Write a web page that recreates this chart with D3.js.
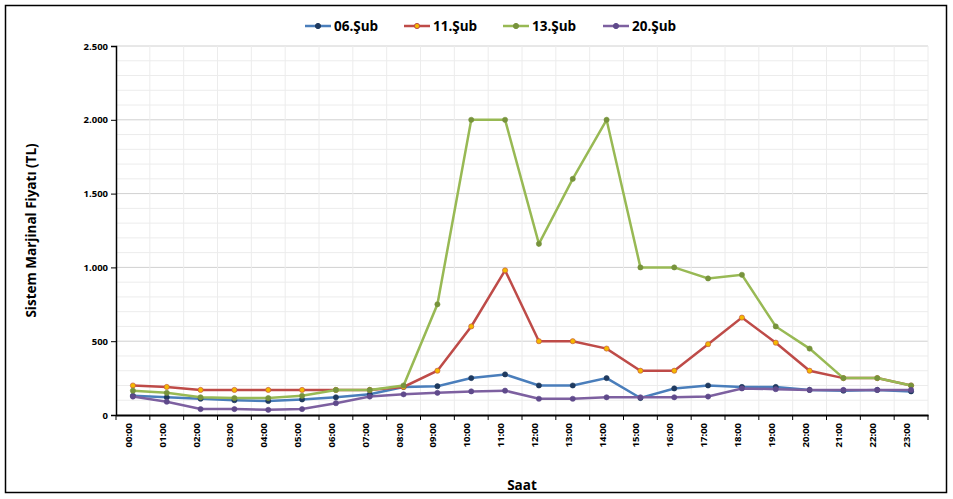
<!DOCTYPE html>
<html><head><meta charset="utf-8">
<script src="https://d3js.org/d3.v7.min.js"></script>
<style>body{margin:0;background:#fff;font-family:"Open Sans",sans-serif;}</style>
</head><body><div id="c"></div>
<script>
const hours = d3.range(24).map(h => String(h).padStart(2, "0") + ":00");
const s06 = [130,120,110,100,95,105,120,140,190,195,250,275,200,200,250,115,180,200,190,190,170,165,170,160];
const s11 = [200,190,170,170,170,170,170,170,190,300,600,980,500,500,450,300,300,480,660,490,300,250,250,200];
const s13 = [165,150,120,115,115,130,170,170,200,750,2000,2000,1160,1600,2000,1000,1000,925,950,600,450,250,250,200];
const s20 = [125,90,40,40,35,40,80,125,140,150,160,165,110,110,120,120,120,125,180,175,170,170,170,170];
const names = ["06.Şub","11.Şub","13.Şub","20.Şub"];
const colors = ["#4a7ebb","#be4b48","#98b954","#7d60a0"];
const dots = [["#1f3a5f","#1f3a5f"],["#f5b800","#be4b48"],["#77933c","#77933c"],["#5f4a8b","#5f4a8b"]];
const series = [s06,s11,s13,s20];
const yTicks = [0,500,1000,1500,2000,2500];
const fmt = v => v === 0 ? "0" : d3.format(",")(v).replace(",", ".");

const W = 953, H = 499, m = {l:116, r:25, t:46, b:84};
const svg = d3.select("#c").append("svg").attr("width", W).attr("height", H);
svg.append("rect").attr("x",5.5).attr("y",5.5).attr("width",W-12).attr("height",H-12).attr("fill","#fff").attr("stroke","#000").attr("stroke-width",1.5);

const x = d3.scaleBand().domain(hours).range([m.l, W - m.r]);
const y = d3.scaleLinear().domain([0,2500]).range([H - m.b, m.t]);
const g = svg.append("g");

// minor/major gridlines
g.selectAll(".mn").data(d3.range(100,2501,100)).join("line")
  .attr("x1", m.l).attr("x2", W - m.r).attr("y1", d => y(d)).attr("y2", d => y(d))
  .attr("stroke", d => d % 500 ? "#ececec" : "#d0d0d0");
g.selectAll(".vg").data(hours.slice(1)).join("line")
  .attr("x1", d => x(d)).attr("x2", d => x(d)).attr("y1", m.t).attr("y2", H - m.b).attr("stroke", "#ececec");
g.append("line").attr("x1", W-m.r).attr("x2", W-m.r).attr("y1", m.t).attr("y2", H-m.b).attr("stroke","#ececec");

const ya = svg.append("g").attr("transform", `translate(${m.l},0)`)
  .call(d3.axisLeft(y).tickValues(yTicks).tickFormat(fmt).tickSize(5));
ya.select(".domain").attr("stroke","#000").attr("stroke-width",1.5);
ya.selectAll("text").attr("font-size",9.5).attr("font-weight","bold").attr("font-family","Open Sans");

const xa = svg.append("g").attr("transform", `translate(0,${H - m.b})`)
  .call(d3.axisBottom(x).tickSize(0));
xa.select(".domain").attr("stroke","#000").attr("stroke-width",2);
xa.selectAll(".bt").data(hours.concat(["end"])).join("line").attr("class","bt")
  .attr("x1",(d,i)=>m.l+i*x.bandwidth()).attr("x2",(d,i)=>m.l+i*x.bandwidth()).attr("y1",0).attr("y2",5).attr("stroke","#000");
xa.selectAll(".tick text").attr("font-size",9.5).attr("font-weight","bold").attr("font-family","Open Sans")
  .attr("transform","rotate(-90)").attr("text-anchor","end").attr("dx","-8").attr("dy","-0.1em").attr("x",0).attr("y",0);

const line = d3.line().x((d,i) => x(hours[i]) + x.bandwidth()/2).y(d => y(d));
series.forEach((s, k) => {
  svg.append("path").datum(s).attr("d", line).attr("fill","none").attr("stroke",colors[k]).attr("stroke-width",2.5);
  svg.selectAll(".p"+k).data(s).join("circle")
    .attr("cx",(d,i)=>x(hours[i])+x.bandwidth()/2).attr("cy",d=>y(d)).attr("r",2.6)
    .attr("fill",dots[k][0]).attr("stroke",dots[k][1]).attr("stroke-width",0.6);
});

// legend
const lg = svg.append("g").attr("transform","translate(305,26)");
const offs = [0,99,198,298];
names.forEach((n,k) => {
  const e = lg.append("g").attr("transform",`translate(${offs[k]},0)`);
  e.append("line").attr("x1",0).attr("x2",26).attr("stroke",colors[k]).attr("stroke-width",2.5);
  e.append("circle").attr("cx",13).attr("r",2.6).attr("fill",dots[k][0]).attr("stroke",dots[k][1]);
  e.append("text").attr("x",29).attr("y",5).text(n).attr("font-size",13.5).attr("font-weight","bold");
});

svg.append("text").attr("x", (m.l + W - m.r)/2).attr("y", 490).attr("text-anchor","middle")
  .attr("font-size",13.5).attr("font-weight","bold").text("Saat");
svg.append("text").attr("transform",`translate(36,${(m.t + H - m.b)/2}) rotate(-90)`).attr("text-anchor","middle")
  .attr("font-size",13.5).attr("font-weight","bold").text("Sistem Marjinal Fiyatı (TL)");
</script></body></html>
